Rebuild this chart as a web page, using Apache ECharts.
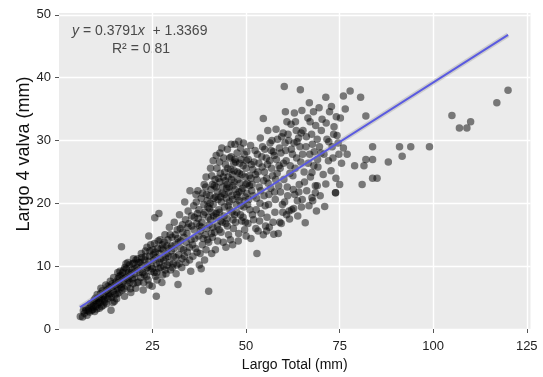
<!DOCTYPE html>
<html>
<head>
<meta charset="utf-8">
<script src="https://cdn.jsdelivr.net/npm/echarts@6/dist/echarts.min.js"></script>
<style>
html,body{margin:0;padding:0;background:#fff;}
#chart{width:543px;height:377px;}
</style>
</head>
<body>
<div id="chart"></div>
<script>
// Tick values
const xTicks = [25, 50, 75, 100, 125];
const yTicks = [0, 10, 20, 30, 40, 50];

// Regression line end points (y = 0.3791x + 1.3369)
const fitLine = [[5.6, 3.46], [120, 46.83]];

// Scatter points, grouped by region of the cloud [Largo Total, Largo 4 valva]
const smallShells = [
[5.7,2.0],[6.3,1.9],[6.8,2.5],[7.2,3.0],[7.5,2.2],[8,3.3],[8.2,2.7],[8.6,3.8],[9,3.1],[9.2,4.2],[9.5,2.8],[9.8,3.6],[10,4.5],[10.3,3.9],[10.5,5.0],[10.8,3.3],[11,4.2],[11.2,6.5],[11.5,4.8],[11.8,3.8],
[12,5.2],[12.3,4.3],[12.6,6.0],[13,4.8],[13.2,5.6],[13.5,6.6],[13.9,3.0],[14,5.0],[14.2,7.2],[14.5,6.0],[14.8,4.4],[15,5.5],[15.2,7.5],[15.5,6.4],[15.8,8.0],[16,5.8],[16.2,7.0],[16.5,8.5],[16.7,13.1],[16.8,6.2],[17,9.0],[17.2,7.6],[17.5,5.2],[17.8,8.2],[18,9.6],[18.2,6.8],[18.5,7.8],[18.8,10.2],[19,8.6],[19.2,5.8],[19.5,9.4],[19.8,7.2],[20,10.5],[20.2,8.2],[20.5,6.5],[20.8,9.8],
[8.4,4.0],[9.1,3.5],[9.7,4.9],[10.2,5.5],[10.6,4.2],[11.1,5.6],[11.6,6.1],[12.1,4.6],[12.5,7.0],[12.9,6.2],[13.4,5.2],[13.7,7.6],[14.1,6.6],[14.6,8.2],[15.1,6.8],[15.4,4.8],[15.9,7.4],[16.3,9.2],[16.6,6.6],[17.1,8.0],[17.6,9.8],[18.1,8.4],[18.4,10.6],[18.9,7.4],[19.3,9.0],[19.7,10.4],[20.1,8.8],[20.6,11.0],[21.1,9.4],[21.8,10.6],
[6.5,2.9],[7.0,3.4],[7.8,2.9],[8.8,3.0],[9.4,4.6],[10.1,3.2],[10.9,4.8],[11.4,3.6],[11.9,5.4],[12.7,4.0],[13.1,6.8],[13.8,5.6],[14.4,4.2],[14.9,7.0],[15.6,5.6],[16.1,8.4],[16.9,7.2],[17.4,6.4],[17.9,10.4],[18.6,9.0],[19.1,6.4],[19.6,8.0],[20.3,9.6],[20.9,7.4],[21.4,10.6],[21.9,8.2],[17.3,9.4],[18.3,8.0],[19.9,11.2],[15.7,9.0]
];
const youngShells = [
[21,11.2],[21.3,7.5],[21.6,9.0],[22,12.0],[22.2,10.2],[22.5,6.2],[22.8,8.6],[23,11.5],[23.2,9.6],[23.5,13.0],[23.8,7.8],[24,10.8],[24,14.8],[24.3,12.4],[24.6,9.2],[24.9,6.8],[25.2,11.8],[25.5,13.6],[25.6,17.7],[25.8,8.4],[26,5.2],[26,10.4],[26.3,12.8],[26.7,18.4],[26.6,9.6],[27,14.2],[27.2,11.2],[27.5,7.4],[27.8,12.6],[28,10.0],[28.3,15.0],[28.6,8.8],[28.9,13.2],[29.2,11.6],[29.5,16.2],[29.8,9.4],[30,12.4],[30.2,14.6],
[22.4,9.0],[22.9,11.0],[23.4,8.4],[23.7,10.2],[24.2,11.6],[24.7,10.0],[25.1,12.6],[25.4,9.0],[25.9,11.4],[26.2,7.8],[26.8,12.0],[27.1,9.8],[27.6,13.4],[27.9,11.0],[28.4,9.4],[28.8,12.0],[29.1,14.2],[29.6,10.6],[30.1,13.2],[30.6,11.6],[31.1,15.0],[31.5,10.2],[31.9,13.8],[32.4,16.0],[32.9,11.2],[33.4,14.6],[33.8,17.4],[34.3,12.2],[34.7,16.8],[35.3,14.2],
[30.5,10.4],[30.8,17.0],[31,13.4],[31.3,8.8],[31.8,7.1],[31.6,15.8],[32,11.8],[32.2,18.2],[32.5,14.0],[32.8,9.8],[33,16.6],[33.3,12.6],[33.6,20.2],[33.9,10.6],[34.2,15.2],[34.5,18.8],[34.8,13.0],[35,22.0],[35.2,9.2],[35.5,16.4],[35.8,11.6],[36,19.6],[36.3,14.4],[36.6,21.4],[36.9,12.2],[37.2,17.6],[37.5,10.2],[37.8,15.6],[38,20.8],[38.3,13.4],[38.6,18.2],[38.9,11.0],[39.2,22.6],[39.5,16.0],[39.8,19.4],[40,6.0],[40,13.8],
[22.1,11.4],[22.6,7.4],[23.1,12.4],[23.6,9.8],[24.1,7.0],[24.5,13.4],[25.0,9.6],[25.3,11.0],[25.7,12.2],[26.1,9.0],[26.5,14.0],[26.9,10.6],[27.3,12.8],[27.7,8.6],[28.1,13.8],[28.5,11.4],[28.9,10.2],[29.3,12.8],[29.7,15.0],[30.3,9.8],[30.7,12.8],[31.2,11.4],[31.7,14.4],[32.1,10.4],[32.6,12.8],[33.1,15.4],[33.5,11.6],[34.0,13.8],[34.4,16.2],[34.9,11.0],[35.4,18.0],[35.7,13.4],[36.1,15.8],[36.5,12.8],[37.0,18.4],[37.3,14.8],[37.7,12.0],[38.1,16.2],[38.5,14.4],[39.0,18.6]
];
const adultShells = [
[40.3,21.2],[40.5,17.4],[40.8,24.4],[41,14.6],[41.2,19.8],[41.5,22.8],[41.8,12.6],[42,18.4],[42.2,25.6],[42.5,20.6],[42.8,15.8],[43,23.4],[43.2,17.2],[43.5,28.8],[43.6,21.6],[43.9,13.8],[44.2,19.4],[44.5,26.2],[44.8,22.4],[45,16.4],[45.2,24.2],[45.5,20.2],[45.8,14.2],[46,27.4],[46.2,18.6],[46.5,22.8],[46.8,25.2],[47,29.4],[47.2,17.0],[47.5,21.4],[47.8,23.8],[48,29.9],[48,15.2],[48.3,26.4],[48.6,19.6],[48.9,24.6],[49.2,17.8],[49.5,27.8],[49.8,21.0],[50,14.8],[50,25.6],
[38.2,17.0],[38.7,19.8],[39.1,15.0],[39.4,21.4],[39.9,17.8],[40.2,19.2],[40.6,22.2],[41.1,16.2],[41.4,20.8],[41.7,23.8],[42.1,17.8],[42.4,21.8],[42.7,19.0],[43.1,24.8],[43.4,20.2],[43.8,22.6],[44.1,18.0],[44.4,23.6],[44.7,20.8],[45.1,25.6],[45.4,21.8],[45.7,19.0],[46.1,23.8],[46.4,20.6],[46.7,26.4],[47.1,22.2],[47.4,19.8],[47.7,25.0],[48.1,21.8],[48.4,23.2],[48.7,27.0],[49.1,22.4],[49.4,19.4],[49.7,24.2],[50.1,26.8],[44.9,17.6],[43.3,15.4],[41.9,21.0],[40.9,18.6],[39.6,20.4],[46.9,18.2],[48.2,20.4],[45.6,27.2],[47.6,28.0],[42.9,26.6],[44.3,25.0],[46.3,24.6],[49.9,23.0],[37.4,19.0],[36.8,16.8],
[45.3,15.0],[46.6,16.0],[47.9,14.0],[48.8,17.2],[49.6,15.8],
[39.3,12.6],[39.7,14.2],[40.1,16.6],[40.4,20.0],[40.7,15.2],[41.0,23.0],[41.3,18.0],[41.6,15.4],[42.0,22.6],[42.3,16.4],[42.6,24.0],[42.9,18.6],[43.2,21.0],[43.6,17.0],[43.9,24.2],[44.2,21.4],[44.6,16.8],[44.9,23.0],[45.2,19.6],[45.5,22.6],[45.9,25.4],[46.2,21.2],[46.5,17.4],[46.8,23.4],[47.2,26.6],[47.5,18.6],[47.8,21.0],[48.2,24.8],[48.5,18.2],[48.8,22.0],[49.2,26.0],[49.5,20.4],[49.8,17.0],[50.2,21.6],[50.4,19.8],[50.9,22.8],[51.3,24.0],[36.2,17.8],[36.7,20.2],[37.1,22.0],[37.6,16.4],[38.4,21.6],[38.8,23.0],[39.3,24.2],[40.5,25.6],[41.2,26.8],[42.0,27.6],[43.0,28.0],[44.0,27.2],[45.0,28.6],[46.0,29.4],[47.0,27.0],[48.5,28.8],[49.3,29.6],[50.2,28.2],[44.6,13.0],[46.4,13.4],[42.4,14.0],[40.8,12.0],[38.0,9.6]
];
const largeShells = [
[50.3,23.2],[50.6,27.0],[51,19.0],[51.2,29.2],[51.5,22.0],[51.8,25.4],[52,17.4],[52.5,24.6],[52.8,20.8],[53,27.8],[53.2,15.6],[53.5,22.6],[53.8,30.4],[54,18.4],[54.3,25.8],[54.6,33.5],[54.8,21.2],[55,28.6],[55.2,16.4],[55.5,24.0],[55.8,31.6],[56,19.8],[56.3,26.8],[56.6,22.4],[56.9,30.0],[57.2,17.0],[57.5,27.6],[57.8,20.6],[58,31.8],[58.3,24.8],[58.6,15.2],[58.9,28.8],[59.2,21.8],[59.5,30.6],[59.8,18.6],[60,26.4],
[50.8,24.4],[51.4,26.2],[51.9,21.2],[52.4,28.4],[52.9,23.8],[53.4,26.4],[53.9,22.0],[54.4,29.0],[54.9,25.0],[55.4,27.2],[55.9,23.2],[56.4,29.6],[56.8,25.6],[57.3,28.2],[57.9,23.8],[58.4,30.2],[58.8,26.0],[59.3,28.0],[59.9,31.2],[60.4,29.6],[61.4,30.0],[62.4,27.8],[63.4,31.6],[64.4,29.0],[60.9,33.0],
[50.5,16.8],[51.3,14.4],[51.7,18.2],[52.6,16.0],[53.6,17.2],[54.6,15.0],[55.6,17.8],[56.2,16.2],[57.7,18.6],[59.0,17.0],[59.4,16.8],[60.8,18.2],[62.7,19.2],[63.7,20.4],[64.8,19.4],[55.5,15.6],[57.4,15.1],[52.9,12.0],
[60.3,20.2],[60.6,28.4],[61,22.6],[61.2,31.0],[61.5,18.8],[61.8,26.0],[62,32.6],[62.2,19.0],[62.5,24.4],[62.8,29.6],[63,21.4],[63.2,33.0],[63.5,27.2],[63.8,18.0],[64,30.4],[64.2,23.0],[64.6,26.6],[65,20.6],[65.2,31.6],[65.5,25.0],[65.8,16.9],[66,29.0],[66.2,22.0],[66.5,33.6],[66.8,19.6],[67,27.8],[67.2,24.2],[67.5,31.0],[67.8,20.4],[68,34.6],[68.2,28.2],[68.5,22.8],[68.8,18.8],[69,30.2],[69.2,25.8],[69.5,35.2],[69.8,21.2],[70,28.0],[61.6,17.5],[67.6,20.9],[68.5,21.7],[69,22.8],[67.6,24.9],
[50.7,20.6],[51.6,23.0],[52.1,26.6],[52.7,19.0],[53.1,25.0],[53.7,20.0],[54.2,27.4],[54.7,23.6],[55.1,19.6],[55.7,26.2],[56.1,21.4],[56.7,28.4],[57.1,24.4],[57.6,21.8],[58.1,27.0],[58.7,22.8],[59.1,25.6],[59.7,19.8],[60.1,23.8],[60.7,26.8],[61.1,21.2],[61.7,24.8],[62.1,28.6],[62.6,22.2],[63.1,25.6],[63.6,29.8],[64.1,21.8],[64.7,31.2],[65.1,27.8],[65.6,23.4],[66.1,30.6],[66.6,26.4],[67.1,33.0],[67.7,29.4],[68.1,26.0],[68.6,32.4],[69.1,27.0],[69.6,29.0],[62.9,34.4],[64.9,34.8],[66.9,36.0],[60.5,34.6]
];
const giantShells = [
[70.3,33.4],[70.6,24.6],[71,19.5],[71.3,23.1],[71.3,36.9],[71.6,30.2],[72,26.8],[72.3,34.6],[72.7,25.2],[73,29.0],[73.2,27.2],[73.5,32.2],[73.9,21.7],[74,24.0],[74.3,30.8],[74.6,29.6],[75,23.0],[75.2,33.6],[75.5,26.4],[76,28.8],[76,37.1],[76.5,35.0],
[70.1,31.6],[70.8,27.8],[71.4,32.8],[72.1,29.8],[72.8,35.4],[73.4,31.0],[74.1,33.8],[74.8,27.8],
[60.2,38.6],[64.5,38.1],[77.8,37.9],[80.6,36.9],[82,33.9],[105,34],[107,32],[109,32],[110,33],[117,36],[120,38],[99,29],[94,29],[91,29],[91.7,27.5],[88,26.6],[83.8,29],[83.8,27],[82,27],[81.5,26],[79,26],[77,27.8],[83.8,24],[85,24],[81,23],[73.9,21.7]
];

const scatterData = [].concat(smallShells, youngShells, adultShells, largeShells, giantShells);

const chart = echarts.init(document.getElementById('chart'), null, {renderer: 'canvas'});
const labelFont = 'Liberation Sans, Arial, sans-serif';
chart.setOption({
  animation: false,
  backgroundColor: '#ffffff',
  grid: {
    left: 59, right: 12.5, top: 13, bottom: 48,
    show: true, backgroundColor: '#ebebeb', borderWidth: 0
  },
  xAxis: {
    type: 'value', min: 0, max: 126, interval: 25,
    axisLine: {show: false},
    axisTick: {show: true, length: 4, lineStyle: {color: '#555', width: 1}, customValues: xTicks},
    axisLabel: {margin: 11, fontSize: 13, color: '#222', fontFamily: labelFont, customValues: xTicks},
    splitLine: {show: true, lineStyle: {color: '#ffffff', width: 1.4}},
    name: 'Largo Total (mm)', nameLocation: 'middle', nameGap: 29,
    nameTextStyle: {fontSize: 14, color: '#111', fontFamily: labelFont}
  },
  yAxis: {
    type: 'value', min: 0, max: 50.3, interval: 10,
    axisLine: {show: false},
    axisTick: {show: true, length: 4, lineStyle: {color: '#555', width: 1}, customValues: yTicks},
    axisLabel: {margin: 8, fontSize: 13, color: '#222', fontFamily: labelFont, customValues: yTicks},
    splitLine: {show: true, lineStyle: {color: '#ffffff', width: 1.4}}
  },
  graphic: [
    {
      type: 'text', left: 72, top: 24,
      style: {
        text: '{i|y} = 0.3791{i|x}  + 1.3369',
        font: '14px Liberation Sans, Arial, sans-serif',
        fill: '#4a4a4a',
        rich: {i: {fontStyle: 'italic', fontSize: 14, fontFamily: labelFont, fill: '#4a4a4a'}}
      }
    },
    {
      type: 'text', left: 112, top: 42,
      style: {text: 'R\u00B2 = 0.81', font: '14px Liberation Sans, Arial, sans-serif', fill: '#4a4a4a'}
    },
    {
      type: 'text', x: 24, y: 154, rotation: Math.PI / 2,
      style: {
        text: 'Largo 4 valva (mm)', font: '18px Liberation Sans, Arial, sans-serif',
        fill: '#111', align: 'center', verticalAlign: 'middle'
      }
    }
  ],
  series: [
    {
      type: 'scatter',
      data: scatterData,
      symbol: 'circle',
      symbolSize: 7.5,
      itemStyle: {color: 'rgba(0,0,0,0.62)'},
      z: 2
    },
    {
      type: 'line',
      data: fitLine,
      symbol: 'none',
      lineStyle: {color: 'rgba(150,150,150,0.35)', width: 5},
      z: 3, silent: true
    },
    {
      type: 'line',
      data: fitLine,
      symbol: 'none',
      lineStyle: {color: '#5a5ae0', width: 2},
      z: 4, silent: true
    }
  ]
});
</script>
</body>
</html>
